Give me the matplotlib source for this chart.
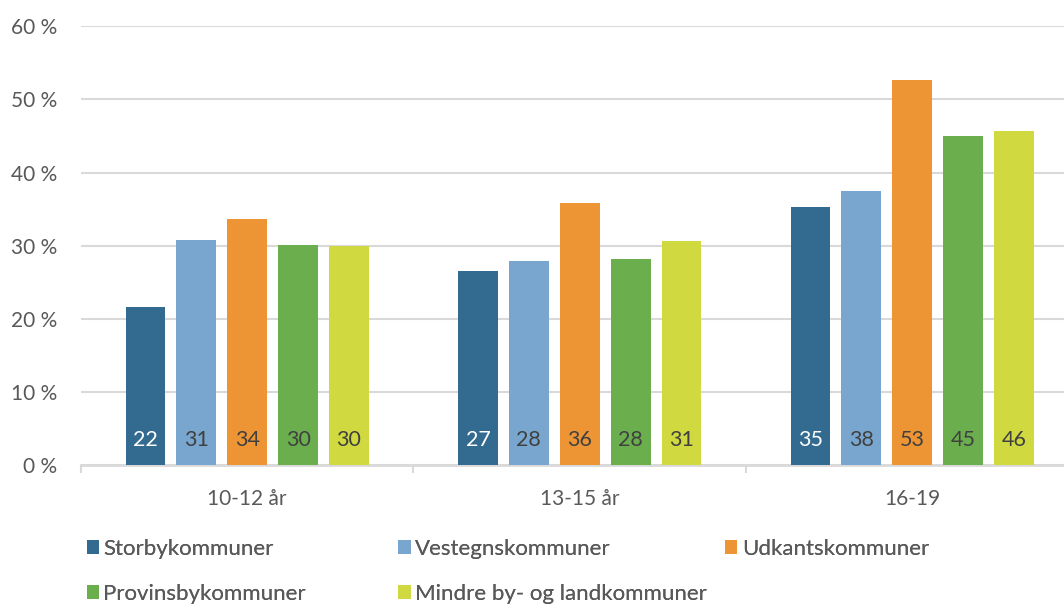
import numpy as np
import matplotlib.pyplot as plt
from matplotlib.ticker import FixedLocator

plt.rcParams['font.family'] = ['Lato', 'DejaVu Sans']

groups = ['10-12 år', '13-15 år', '16-19']
series = ['Storbykommuner', 'Vestegnskommuner', 'Udkantskommuner',
          'Provinsbykommuner', 'Mindre by- og landkommuner']
values = {
    'Storbykommuner':             [21.6, 26.5, 35.3],
    'Vestegnskommuner':           [30.8, 27.9, 37.5],
    'Udkantskommuner':            [33.7, 35.9, 52.6],
    'Provinsbykommuner':          [30.1, 28.2, 45.0],
    'Mindre by- og landkommuner': [30.0, 30.7, 45.7],
}
labels = {
    'Storbykommuner':             [22, 27, 35],
    'Vestegnskommuner':           [31, 28, 38],
    'Udkantskommuner':            [34, 36, 53],
    'Provinsbykommuner':          [30, 28, 45],
    'Mindre by- og landkommuner': [30, 31, 46],
}
colors = ['#336a90', '#79a6ce', '#ed9535', '#6aae4e', '#d0d93f']
label_colors = ['white', '#404040', '#404040', '#404040', '#404040']

fig = plt.figure(figsize=(10.64, 6.06), dpi=100)
ax = fig.add_axes([0.0761, 0.2327, 0.9375, 0.7239])

x = np.arange(len(groups))
width = 0.12
step = 0.153
for i, s in enumerate(series):
    xs = x + (i - 2) * step
    ax.bar(xs, values[s], width=width, color=colors[i], zorder=3, label=s)
    for xi, lab in zip(xs, labels[s]):
        ax.text(xi, 3.4, str(lab), ha='center', va='center',
                fontsize=15.5, color=label_colors[i], zorder=4)

ax.set_ylim(0, 60)
ax.set_xlim(-0.5, 2.5)
ax.set_yticks(range(0, 61, 10))
ax.set_yticklabels([f'{v} %' for v in range(0, 61, 10)])
ax.yaxis.grid(True, color='#d9d9d9', linewidth=1.5, zorder=0)
ax.set_xticks(x)
ax.set_xticklabels(groups)
ax.xaxis.set_minor_locator(FixedLocator([-0.5, 0.5, 1.5, 2.5]))
ax.tick_params(axis='x', which='major', length=0, pad=17,
               labelsize=15, labelcolor='#595959')
ax.tick_params(axis='x', which='minor', length=6, width=1.5, color='#d9d9d9')
ax.tick_params(axis='y', length=0, pad=17, labelsize=15, labelcolor='#595959')
for side in ['top', 'right', 'left']:
    ax.spines[side].set_visible(False)
ax.spines['bottom'].set_color('#d9d9d9')
ax.spines['bottom'].set_linewidth(2)

# legend entries placed like the original
handles, hl = ax.get_legend_handles_labels()
leg_pos = [(0.071, 0.094), (0.364, 0.094), (0.671, 0.094),
           (0.071, 0.020), (0.364, 0.020)]
for h, l, pos in zip(handles, hl, leg_pos):
    lg = fig.legend([h], [l], loc='center left', bbox_to_anchor=pos,
                    frameon=False, fontsize=16, handlelength=0.55,
                    handleheight=0.55, handletextpad=0.2, borderpad=0,
                    labelcolor='#595959')
    fig.add_artist(lg)

fig.savefig('out.png', dpi=100)
